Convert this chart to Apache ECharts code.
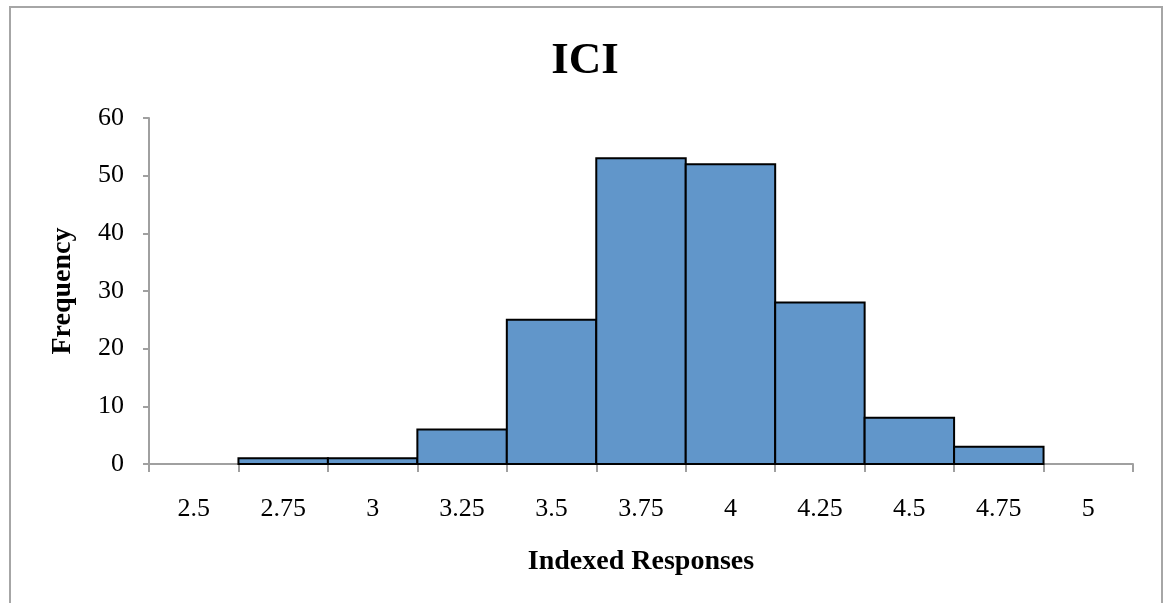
<!DOCTYPE html>
<html>
<head>
<meta charset="utf-8">
<script src="https://cdn.jsdelivr.net/npm/echarts@6/dist/echarts.min.js"></script>
<style>html,body{margin:0;padding:0;background:#fff;}#c{width:1170px;height:603px;}</style>
</head>
<body>
<div id="c"></div>
<script>
const categories = ['2.5','2.75','3','3.25','3.5','3.75','4','4.25','4.5','4.75','5'];
const frequency = [0, 1, 1, 6, 25, 53, 52, 28, 8, 3, 0];
const yTicks = { min: 0, max: 60, interval: 10 };
const FONT = 'Liberation Serif';

const chart = echarts.init(document.getElementById('c'), null, { renderer: 'canvas' });
chart.setOption({
  backgroundColor: '#fff',
  animation: false,
  title: {
    text: 'ICI', left: 'center', top: 34,
    textStyle: { fontFamily: FONT, fontSize: 45, fontWeight: 'bold', color: '#000' }
  },
  graphic: [{
    type: 'rect', shape: { x: 10, y: 7, width: 1152, height: 640 },
    style: { fill: 'none', stroke: '#a6a6a6', lineWidth: 2 }, silent: true
  }],
  grid: { left: 149, right: 37, top: 118, bottom: 139, containLabel: false },
  xAxis: {
    type: 'category', data: categories, boundaryGap: true,
    name: 'Indexed Responses', nameLocation: 'middle', nameGap: 84,
    nameTextStyle: { fontFamily: FONT, fontSize: 28, fontWeight: 'bold', color: '#000' },
    axisLine: { lineStyle: { color: '#a0a0a0', width: 2 } },
    axisTick: { show: true, alignWithLabel: false, length: 8, lineStyle: { color: '#a0a0a0', width: 2 } },
    axisLabel: { fontFamily: FONT, fontSize: 26, color: '#000', margin: 32, interval: 0 }
  },
  yAxis: {
    type: 'value', min: yTicks.min, max: yTicks.max, interval: yTicks.interval,
    name: 'Frequency', nameLocation: 'middle', nameGap: 72, nameRotate: 90,
    nameTextStyle: { fontFamily: FONT, fontSize: 28, fontWeight: 'bold', color: '#000' },
    axisLine: { show: true, lineStyle: { color: '#a0a0a0', width: 2 } },
    axisTick: { show: true, length: 6, lineStyle: { color: '#a0a0a0', width: 2 } },
    splitLine: { show: false },
    axisLabel: { fontFamily: FONT, fontSize: 26, color: '#000', margin: 25 }
  },
  series: [{
    type: 'custom',
    data: frequency.map((v, i) => [i, v]),
    encode: { x: 0, y: 1 },
    renderItem: function (params, api) {
      const v = api.value(1);
      if (!v) return null;
      const top = api.coord([api.value(0), v]);
      const base = api.coord([api.value(0), 0]);
      const w = api.size([1, 0])[0];
      return {
        type: 'rect',
        shape: { x: top[0] - w / 2, y: top[1], width: w, height: base[1] - top[1] },
        style: { fill: '#6196CA', stroke: '#000', lineWidth: 2 }
      };
    }
  }]
});
</script>
</body>
</html>
